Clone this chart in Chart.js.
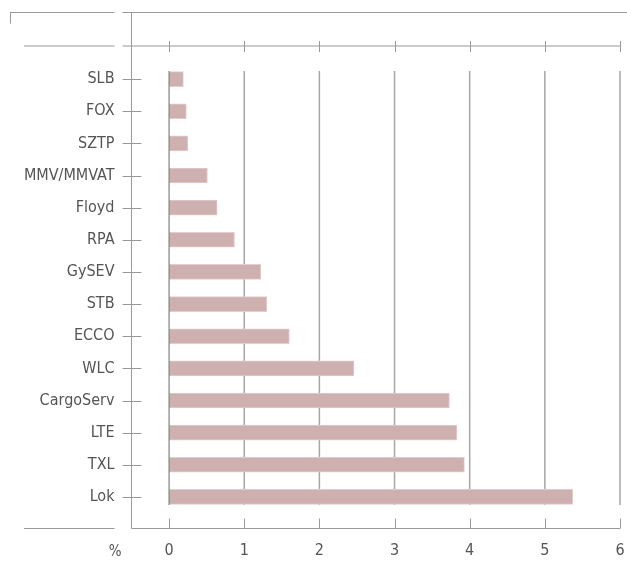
<!DOCTYPE html>
<html>
<head>
<meta charset="utf-8">
<script src="https://cdn.jsdelivr.net/npm/chart.js@4.4.1/dist/chart.umd.min.js"></script>
<style>
  html,body{margin:0;padding:0;background:#fff;}
  #wrap{width:627px;height:570px;}
</style>
</head>
<body>
<div id="wrap"><canvas id="chart"></canvas></div>
<script>
const categories = ["SLB","FOX","SZTP","MMV/MMVAT","Floyd","RPA","GySEV","STB","ECCO","WLC","CargoServ","LTE","TXL","Lok"];
const values = [0.19,0.23,0.25,0.51,0.64,0.87,1.22,1.30,1.60,2.46,3.73,3.83,3.93,5.37];
const xTicks = [0,1,2,3,4,5,6];
const unitLabel = "%";

const FONT = "'Liberation Sans Narrow','DejaVu Sans Condensed','Roboto',sans-serif";
const TEXT = "#555";
const LINE = "#999";

/* 枠線・目盛り */
const frame = {
  id:"frame",
  beforeDatasetsDraw(chart){
    const {ctx, chartArea:a, scales:{x,y}} = chart;
    const axisX = a.left;
    ctx.save();
    ctx.lineWidth = 1;
    ctx.strokeStyle = LINE;
    const line = (x1,y1,x2,y2)=>{
      ctx.beginPath(); ctx.moveTo(x1,y1); ctx.lineTo(x2,y2); ctx.stroke();
    };
    const topY = 12.5, secY = a.top - 17, botY = a.bottom + 15.5;
    // top lines
    line(10, topY, axisX - 17, topY);
    line(10.5, topY, 10.5, topY + 11);
    line(axisX - 9, topY, 627, topY);
    line(axisX, topY, axisX, topY + 12);
    // second line
    line(24, secY, axisX - 17, secY);
    line(axisX - 9, secY, x.right, secY);
    // bottom line
    line(24, botY, axisX - 17, botY);
    line(axisX, botY, x.right, botY);
    // y axis
    line(axisX, topY, axisX, botY);
    // x ticks top / bottom
    xTicks.forEach(v=>{
      const px = Math.round(x.getPixelForValue(v)) + 0.5;
      line(px, secY - 5, px, secY + 6);
      line(px, botY - 10, px, botY);
    });
    line(axisX, secY - 5, axisX, secY + 6);
    // grid
    ctx.strokeStyle = "#a6a6a6";
    ctx.lineWidth = 1.5;
    xTicks.slice(1).forEach(v=>{
      const px = x.getPixelForValue(v);
      line(px, a.top + 8, px, a.bottom - 8);
    });
    // category ticks
    ctx.strokeStyle = LINE;
    ctx.lineWidth = 1;
    categories.forEach((c,i)=>{
      const py = Math.round(y.getPixelForValue(i)) + 0.5;
      line(axisX - 9, py, axisX + 10, py);
    });
    // unit label
    ctx.fillStyle = TEXT;
    ctx.font = "15px " + FONT;
    ctx.textAlign = "right";
    ctx.textBaseline = "middle";
    ctx.fillText(unitLabel, axisX - 10, botY + 24);
    ctx.restore();
  },
  afterDatasetsDraw(chart){
    const {ctx, chartArea:a, scales:{x}} = chart;
    const px = x.getPixelForValue(0);
    ctx.save();
    ctx.strokeStyle = "#808080";
    ctx.lineWidth = 1.2;
    ctx.beginPath(); ctx.moveTo(px, a.top + 8); ctx.lineTo(px, a.bottom - 8); ctx.stroke();
    ctx.restore();
  }
};

new Chart(document.getElementById("chart"),{
  type:"bar",
  data:{
    labels:categories,
    datasets:[{
      data:values,
      backgroundColor:"#cfb0b0",
      borderColor:"#e2cccc",
      borderWidth:1,
      barThickness:15
    }]
  },
  options:{
    indexAxis:"y",
    responsive:true,
    maintainAspectRatio:false,
    animation:false,
    layout:{padding:{top:63,right:7,left:0,bottom:0}},
    plugins:{legend:{display:false},tooltip:{enabled:false}},
    scales:{
      x:{
        min:-0.5, max:6,
        afterBuildTicks:s=>{ s.ticks = xTicks.map(v=>({value:v})); },
        afterFit:s=>{ s.height = 57; },
        grid:{display:false, drawTicks:true, tickLength:28},
        border:{display:false},
        ticks:{color:TEXT, font:{family:FONT,size:16}, padding:0}
      },
      y:{
        afterFit:s=>{ s.width = 131.5; },
        grid:{display:false, drawTicks:false},
        border:{display:false},
        ticks:{color:TEXT, font:{family:FONT,size:16}, padding:17}
      }
    }
  },
  plugins:[frame]
});
</script>
</body>
</html>
